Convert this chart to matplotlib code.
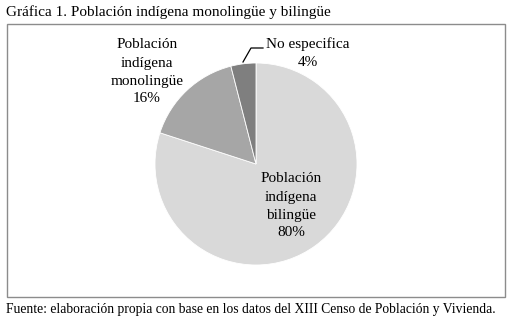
import matplotlib
matplotlib.use("Agg")
import matplotlib.pyplot as plt
from matplotlib.patches import Rectangle
from matplotlib.lines import Line2D

plt.rcParams['font.family'] = ['Liberation Serif', 'DejaVu Serif']

categories = ["Población\nindígena\nbilingüe", "Población\nindígena\nmonolingüe", "No especifica"]
values = [80, 16, 4]
colors = ["#d9d9d9", "#a6a6a6", "#7f7f7f"]
title = "Gráfica 1. Población indígena monolingüe y bilingüe"
source = "Fuente: elaboración propia con base en los datos del XIII Censo de Población y Vivienda."

W, H = 512, 324
fig = plt.figure(figsize=(W/100, H/100), dpi=100)

# frame box
fig.patches.append(Rectangle((7/W, 1-297/H), (505-7)/W, (297-24)/H, transform=fig.transFigure,
                             fill=False, edgecolor="#8c8c8c", linewidth=1.0))

cx, cy, r = 256, 164, 101
ax = fig.add_axes([(cx-r)/W, 1-(cy+r)/H, 2*r/W, 2*r/H])
ax.pie(values, colors=colors, startangle=90, counterclock=False, radius=1,
       wedgeprops=dict(edgecolor="white", linewidth=0.6))
ax.set_xlim(-1, 1); ax.set_ylim(-1, 1)
ax.axis("off")

def d(px, py):
    return ((px-cx)/r, (cy-py)/r)

labels = [f"{c}\n{v}%" for c, v in zip(categories, values)]
pos = [d(291, 206), d(147, 72), d(308, 53)]
for lab, p in zip(labels, pos):
    ax.text(p[0], p[1], lab, ha="center", va="center", fontsize=11, linespacing=1.5, clip_on=False)

xs = [d(243, 62)[0], d(251, 48)[0], d(263, 48)[0]]
ys = [d(243, 62)[1], d(251, 48)[1], d(263, 48)[1]]
ax.add_line(Line2D(xs, ys, color="black", linewidth=0.9, clip_on=False))

fig.text(6/W, 1-12/H, title, ha="left", va="center", fontsize=11)
fig.text(6/W, 1-310/H, source, ha="left", va="center", fontsize=9.8)

fig.savefig("out.png", dpi=100, facecolor="white")
